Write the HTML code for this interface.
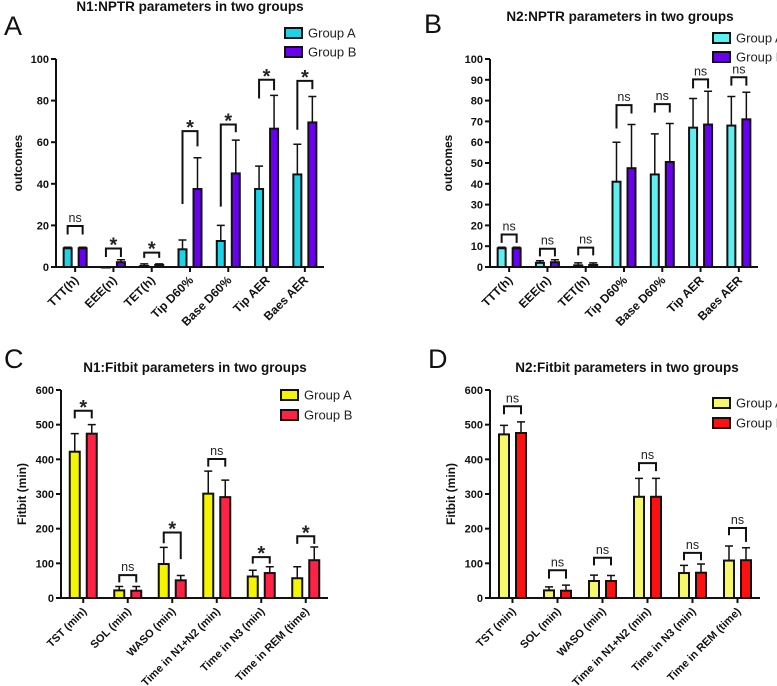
<!DOCTYPE html>
<html><head><meta charset="utf-8">
<style>
html,body{margin:0;padding:0;background:#fff;}
svg{display:block;font-family:"Liberation Sans",Arial,sans-serif;}
</style></head>
<body>
<svg id="fig" width="777" height="686" viewBox="0 0 777 686" xmlns="http://www.w3.org/2000/svg"></svg>
<script>
// ---- Panel A data ----
const catsNPTR = ["TTT(h)","EEE(n)","TET(h)","Tip D60%","Base D60%","Tip AER","Baes AER"];
const aMeanA = [9,0,0.5,8.5,12.5,37.5,44.5];
const aErrA  = [9.5,0,1.5,13,20,48.5,59];
const aMeanB = [9,2.3,1,37.5,45,66.5,69.5];
const aErrB  = [9.5,3.5,1.5,52.5,61,82.5,82];
const aBrTop = [19.7,8.9,6.9,65.3,68.5,90,89.5];
const aBrL   = [15.6,4.8,4.4,30.3,29,81,66];
const aBrR   = [15.6,4.8,4.4,58,64.8,85,85.5];
const aSig   = ["ns","*","*","*","*","*","*"];
const aTicks = [0,20,40,60,80,100];
// ---- Panel B data ----
const bMeanA = [9,2,0.8,41,44.5,67,68];
const bErrA  = [9.5,3,2,60,64,81,82];
const bMeanB = [9,2.3,1,47.5,50.5,68.5,71];
const bErrB  = [9.5,3.5,2,68.5,69,84.5,84];
const bBrTop = [15.6,8.8,9.3,77.8,78.3,90.2,91.2];
const bBrL   = [11.6,5.1,5.6,66.6,74.3,85.9,87.2];
const bBrR   = [11.6,5.1,5.6,73.8,74.3,85.9,87.2];
const bSig   = ["ns","ns","ns","ns","ns","ns","ns"];
const bTicks = [0,10,20,30,40,50,60,70,80,90,100];
// ---- Panel C data ----
const catsFit = ["TST (min)","SOL (min)","WASO (min)","Time in N1+N2 (min)","Time in N3 (min)","Time in REM (time)"];
const cMeanA = [422,22,98,301,62,57];
const cErrA  = [474,33,146,366,80,90];
const cMeanB = [474,21,51,291,72,109];
const cErrB  = [500,33,65,340,90,147];
const cBrTop = [540,66,189,401,118,178];
const cBrL   = [518,45,158,379,99,156];
const cBrR   = [518,45,112,379,99,156];
const cSig   = ["*","ns","*","ns","*","*"];
const cTicks = [0,100,200,300,400,500,600];
// ---- Panel D data ----
const dMeanA = [472,22,49,292,72,108];
const dErrA  = [498,32,66,345,94,150];
const dMeanB = [476,21,49,292,73,109];
const dErrB  = [508,37,65,345,98,145];
const dBrTop = [553,80,116,389,130,202];
const dBrL   = [530,56,94,366,109,181];
const dBrR   = [530,56,94,366,109,162];
const dSig   = ["ns","ns","ns","ns","ns","ns"];
const dTicks = [0,100,200,300,400,500,600];

const NS="http://www.w3.org/2000/svg";
const fig=document.getElementById('fig');
function mk(tag,attrs,parent){const e=document.createElementNS(NS,tag);for(const k in attrs)e.setAttribute(k,attrs[k]);(parent||fig).appendChild(e);return e;}

function panel(o){
  const g=mk('g',{});
  
  
  const n=o.cats.length, W=o.x1-o.x0, step=W/n;
  const yS=v=>o.y0-(v/o.ymax)*(o.y0-o.y1);
  const xC=i=>o.x0+step*(i+0.5);
  const t=mk('text',{x:o.tx,y:o.ty,'text-anchor':'middle','font-size':13.5,'font-weight':'bold',fill:'#111'},g);
  t.textContent=o.title;
  
  
  const L=mk('text',{x:o.lx,y:o.ly,'font-size':27,fill:'#111'},g);
  L.textContent=o.letter;
  
  
  const yl=mk('text',{x:0,y:0,transform:`translate(${o.ylx},${(o.y0+o.y1)/2}) rotate(-90)`,'text-anchor':'middle','font-size':12,'font-weight':'bold',fill:'#111'},g);
  yl.textContent=o.ylabel;
  
  
  for(let i=0;i<n;i++){
    [[o.mA,o.eA,o.colA,-1,'a'],[o.mB,o.eB,o.colB,1,'b']].forEach(([m,e,c,s,k])=>{
      const cx=xC(i)+s*o.off;
      if(e[i]>m[i]){
        const el=mk('path',{d:`M${cx} ${yS(m[i])} V${yS(e[i])} M${cx-4} ${yS(e[i])} H${cx+4}`,stroke:'#111','stroke-width':1.5,fill:'none'},g);
        
        
      }
      const h=Math.max(yS(0)-yS(m[i]),0.5);
      const r=mk('rect',{x:cx-o.bw/2,y:yS(m[i]),width:o.bw,height:h,fill:c,stroke:'#111','stroke-width':2},g);
      
      
    });
    const lx=xC(i)-o.off, rx=xC(i)+o.off;
    const br=mk('path',{d:`M${lx} ${yS(o.bL[i])} V${yS(o.bT[i])} H${rx} V${yS(o.bR[i])}`,stroke:'#111','stroke-width':2,fill:'none'},g);
    
    
    const star=o.sig[i]==='*';
    const st=mk('text',{x:xC(i),y:yS(o.bT[i])-(star?-3:4),'text-anchor':'middle','font-size':star?20:12.5,'font-weight':star?'bold':'normal',fill:'#222'},g);
    st.textContent=o.sig[i];
    
    
    mk('line',{x1:xC(i),x2:xC(i),y1:o.y0,y2:o.y0+5,stroke:'#111','stroke-width':2},g);
    const xl=mk('text',{x:0,y:0,transform:`translate(${xC(i)+4},${o.y0+14}) rotate(-45)`,'text-anchor':'end','font-size':o.xfs,'font-weight':'bold',fill:'#111'},g);
    xl.textContent=o.cats[i];
    
    
  }
  const ax=mk('path',{d:`M${o.x0} ${o.y1} V${o.y0} H${o.x1}`,stroke:'#111','stroke-width':2,fill:'none'},g);
  
  
  o.ticks.forEach(v=>{
    mk('line',{x1:o.x0-5,x2:o.x0,y1:yS(v),y2:yS(v),stroke:'#111','stroke-width':2},g);
    const tl=mk('text',{x:o.x0-7,y:yS(v)+4,'text-anchor':'end','font-size':11,'font-weight':'bold',fill:'#111'},g);
    tl.textContent=v;
    
    
  });
  [['Group A',o.colA,o.legY[0]],['Group B',o.colB,o.legY[1]]].forEach(([lab,c,y])=>{
    const lg=mk('g',{},g);
    
    
    mk('rect',{x:o.legX,y:y-5,width:17,height:10,fill:c,stroke:'#111','stroke-width':2},lg);
    const tx=mk('text',{x:o.legX+23,y:y+4.5,'font-size':13,fill:'#222'},lg);
    tx.textContent=lab;
  });
}

panel({name:'panel-a',letter:'A',lx:4,ly:35,title:'N1:NPTR parameters in two groups',tx:190,ty:11,xfs:12,
  cats:catsNPTR,mA:aMeanA,eA:aErrA,mB:aMeanB,eB:aErrB,bT:aBrTop,bL:aBrL,bR:aBrR,sig:aSig,ticks:aTicks,
  x0:56,x1:324,y0:267,y1:59,ymax:100,off:7.5,bw:8,colA:'#1fd3e6',colB:'#6a00f2',
  ylabel:'outcomes',ylx:22,legX:285,legY:[33,52]});
panel({name:'panel-b',letter:'B',lx:424,ly:33,title:'N2:NPTR parameters in two groups',tx:620,ty:21,xfs:12,
  cats:catsNPTR,mA:bMeanA,eA:bErrA,mB:bMeanB,eB:bErrB,bT:bBrTop,bL:bBrL,bR:bBrR,sig:bSig,ticks:bTicks,
  x0:490,x1:758,y0:267,y1:59,ymax:100,off:7.5,bw:8,colA:'#5ef0f0',colB:'#6a00f2',
  ylabel:'outcomes',ylx:452,legX:713,legY:[38,57]});
panel({name:'panel-c',letter:'C',lx:4,ly:368,title:'N1:Fitbit parameters in two groups',tx:195,ty:372,xfs:11,
  cats:catsFit,mA:cMeanA,eA:cErrA,mB:cMeanB,eB:cErrB,bT:cBrTop,bL:cBrL,bR:cBrR,sig:cSig,ticks:cTicks,
  x0:61,x1:328,y0:598,y1:390,ymax:600,off:8.5,bw:10,colA:'#f5f500',colB:'#ff2244',
  ylabel:'Fitbit (min)',ylx:26,legX:281,legY:[395,415]});
panel({name:'panel-d',letter:'D',lx:428,ly:368,title:'N2:Fitbit parameters in two groups',tx:627,ty:372,xfs:11,
  cats:catsFit,mA:dMeanA,eA:dErrA,mB:dMeanB,eB:dErrB,bT:dBrTop,bL:dBrL,bR:dBrR,sig:dSig,ticks:dTicks,
  x0:490,x1:760,y0:598,y1:390,ymax:600,off:8.5,bw:10,colA:'#f7f76a',colB:'#ff1010',
  ylabel:'Fitbit (min)',ylx:455,legX:713,legY:[403,423]});
</script>
</body></html>
